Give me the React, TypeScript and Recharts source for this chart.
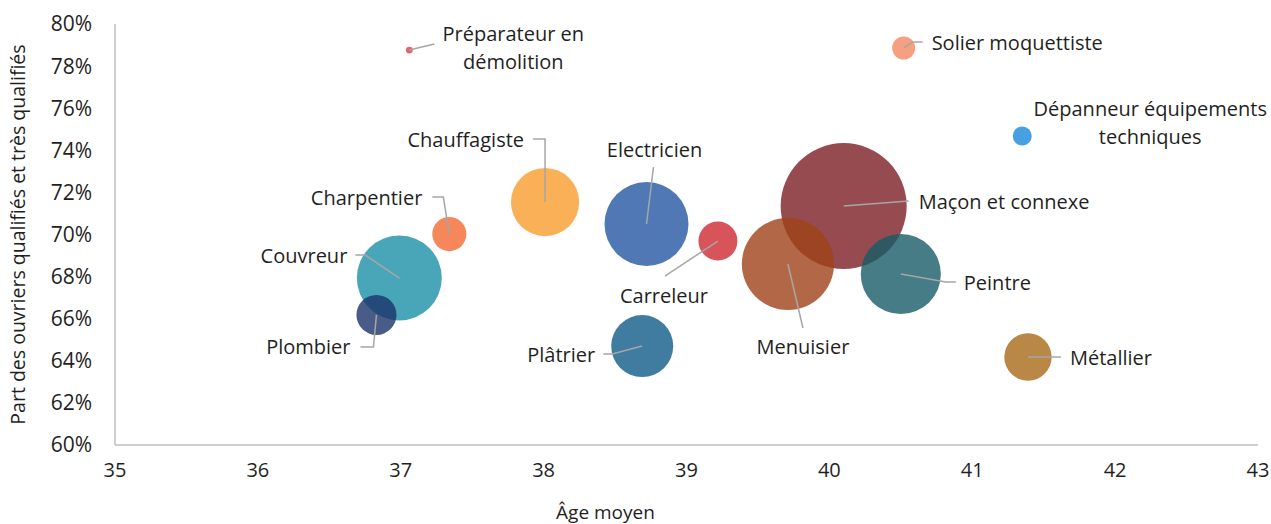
import { ScatterChart, Scatter, XAxis, YAxis, ZAxis } from 'recharts';

// Métiers du bâtiment : âge moyen, part des ouvriers qualifiés, effectifs (taille des bulles)
const trades = [
  'Maçon et connexe',
  'Couvreur',
  'Menuisier',
  'Peintre',
  'Electricien',
  'Chauffagiste',
  'Plâtrier',
  'Métallier',
  'Plombier',
  'Carreleur',
  'Charpentier',
  'Solier moquettiste',
  'Dépanneur équipements techniques',
  'Préparateur en démolition',
];
const meanAge = [40.1, 36.99, 39.71, 40.5, 38.72, 38.01, 38.69, 41.39, 36.83, 39.22, 37.34, 40.52, 41.35, 37.06];
const qualifiedShare = [71.35, 67.93, 68.6, 68.12, 70.5, 71.54, 64.7, 64.18, 66.18, 69.69, 70.02, 78.86, 74.68, 78.76];
const workforce = [198, 90, 106, 80, 88, 58, 48, 28, 20, 19, 14.5, 6.6, 4.5, 0.6];
const colors = [
  '#7C1E24', '#1A90A6', '#9F4218', '#165B66', '#2456A1', '#F99C2C', '#105A88',
  '#A76918', '#1A3369', '#CD2A31', '#F26931', '#F28863', '#1888D9', '#D93D4A',
];

const xTicks = [35, 36, 37, 38, 39, 40, 41, 42, 43];
const yTicks = [60, 62, 64, 66, 68, 70, 72, 74, 76, 78, 80];

// leader lines and label placement, relative to the bubble centre
type Callout = { path: number[][]; dx: number; dy: number; anchor: 'start' | 'middle' | 'end'; breakAfter?: number };
const callouts: Record<string, Callout> = {
  'Maçon et connexe': { path: [[65, -5]], dx: 75, dy: -5, anchor: 'start' },
  Couvreur: { path: [[-34, -23], [-44, -23]], dx: -52, dy: -23, anchor: 'end' },
  Menuisier: { path: [[15, 64]], dx: 15, dy: 83, anchor: 'middle' },
  Peintre: { path: [[45, 8], [55, 8]], dx: 63, dy: 8, anchor: 'start' },
  Electricien: { path: [[7, -57]], dx: 8, dy: -74, anchor: 'middle' },
  Chauffagiste: { path: [[0, -63], [-12, -63]], dx: -21, dy: -63, anchor: 'end' },
  'Plâtrier': { path: [[-30, 8], [-39, 8]], dx: -47, dy: 8, anchor: 'end' },
  'Métallier': { path: [[33, 0]], dx: 42, dy: 0, anchor: 'start' },
  Plombier: { path: [[-3, 32], [-16, 32]], dx: -26, dy: 32, anchor: 'end' },
  Carreleur: { path: [[-53, 35]], dx: -54, dy: 54, anchor: 'middle' },
  Charpentier: { path: [[-6, -37], [-17, -37]], dx: -27, dy: -37, anchor: 'end' },
  'Solier moquettiste': { path: [[9, -6], [19, -6]], dx: 28, dy: -5, anchor: 'start' },
  'Dépanneur équipements techniques': { path: [], dx: 128, dy: -27, anchor: 'middle', breakAfter: 2 },
  'Préparateur en démolition': { path: [[25, -6]], dx: 104, dy: -17, anchor: 'middle', breakAfter: 2 },
};

const data = trades.map((name, i) => ({
  name,
  x: meanAge[i],
  y: qualifiedShare[i],
  z: workforce[i],
  color: colors[i],
}));

const MAX_RADIUS = 63;
const FONT = '"Open Sans", sans-serif';
const TEXT = '#1f1f1f';

const Bubble = (props: any) => {
  const { cx, cy, size, payload } = props;
  const r = Math.sqrt(Math.max(size, 0) / Math.PI);
  return <circle cx={cx} cy={cy} r={r} fill={payload.color} fillOpacity={0.8} />;
};

const CalloutShape = (props: any) => {
  const { cx, cy, payload } = props;
  const c = callouts[payload.name];
  if (!c) return null;
  const pts = [[0, 0], ...c.path].map(([px, py]) => `${cx + px},${cy + py}`).join(' ');
  const words = payload.name.split(' ');
  const lines = c.breakAfter
    ? [words.slice(0, c.breakAfter).join(' '), words.slice(c.breakAfter).join(' ')]
    : [payload.name];
  return (
    <g>
      {c.path.length > 0 && (
        <polyline points={pts} fill="none" stroke="#a6a6a6" strokeWidth={1.5} />
      )}
      {lines.map((line, k) => (
        <text
          key={k}
          x={cx + c.dx}
          y={cy + c.dy + k * 28}
          textAnchor={c.anchor}
          dominantBaseline="central"
          fontSize={20}
          fontFamily={FONT}
          fill={TEXT}
        >
          {line}
        </text>
      ))}
    </g>
  );
};

export default function App() {
  return (
    <div style={{ position: 'absolute', left: 0, top: 0, width: 1271, height: 524, background: '#fff', fontFamily: FONT }}>
      <ScatterChart width={1271} height={524} margin={{ top: 24, right: 13, bottom: 0, left: 0 }}>
        <XAxis
          type="number"
          dataKey="x"
          domain={[35, 43]}
          ticks={xTicks}
          interval={0}
          stroke="#bfbfbf"
          strokeWidth={1.5}
          tickLine={false}
          tickMargin={12}
          height={79}
          tick={{ fill: TEXT, fontSize: 20, fontFamily: FONT }}
          label={{ value: 'Âge moyen', position: 'insideBottom', offset: 0, dx: -81, dy: -5, fill: TEXT, fontSize: 19, fontFamily: FONT }}
        />
        <YAxis
          type="number"
          dataKey="y"
          domain={[60, 80]}
          ticks={yTicks}
          interval={0}
          width={115}
          stroke="#bfbfbf"
          strokeWidth={1.5}
          tickLine={false}
          tickMargin={17}
          tickFormatter={(v: number) => `${v}%`}
          tick={{ fill: TEXT, fontSize: 21, fontFamily: FONT }}
          label={{
            value: 'Part des ouvriers qualifiés et très qualifiés',
            angle: -90,
            position: 'insideLeft',
            offset: 0,
            dx: 18,
            textAnchor: 'middle',
            fill: TEXT,
            fontSize: 19.5,
            fontFamily: FONT,
          }}
        />
        <ZAxis type="number" dataKey="z" domain={[0, 198]} range={[0, Math.PI * MAX_RADIUS * MAX_RADIUS]} />
        <Scatter data={data} shape={<Bubble />} isAnimationActive={false} />
        <Scatter data={data} shape={<CalloutShape />} isAnimationActive={false} />
      </ScatterChart>
    </div>
  );
}
